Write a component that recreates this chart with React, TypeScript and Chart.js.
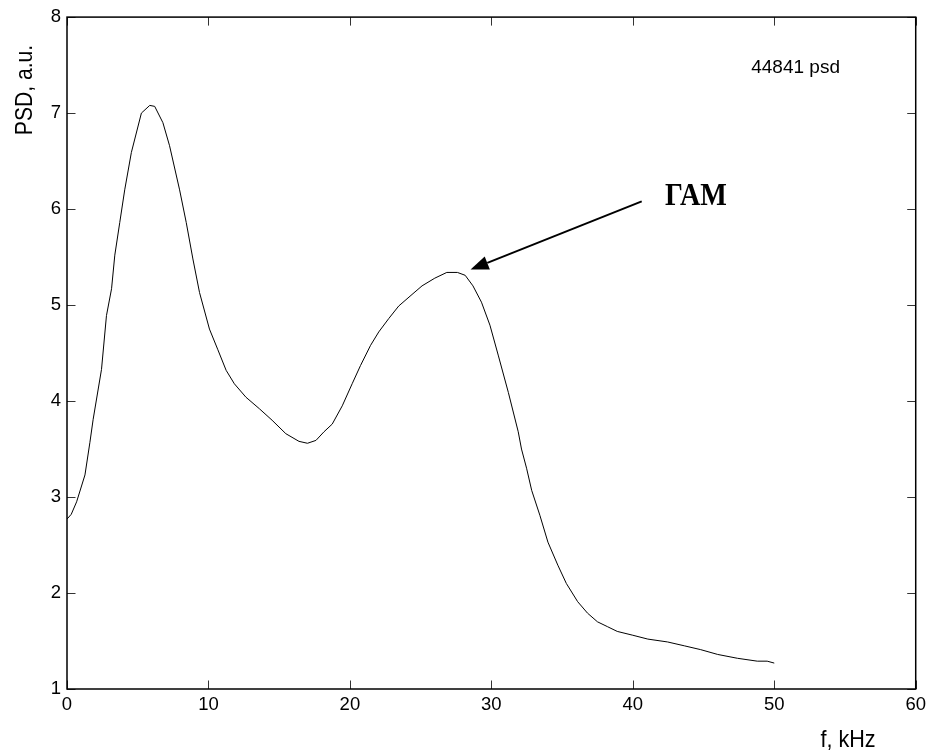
import React, { useEffect, useRef } from "react";
import { Chart, registerables } from "chart.js";

Chart.register(...registerables);

// ---- data ----
const freqKHz = [
  0, 0.3, 0.68, 1.27, 1.62, 1.85, 2.44, 2.79, 3.15, 3.38, 3.73, 4.08, 4.55,
  5.26, 5.85, 6.2, 6.78, 7.25, 7.96, 8.43, 8.9, 9.37, 10.07, 10.65, 11.25,
  11.83, 12.65, 13.6, 14.5, 15.47, 16.4, 17.0, 17.6, 18.17, 18.75, 19.46,
  20.16, 20.75, 21.46, 22.04, 22.75, 23.45, 24.39, 25.1, 26.0, 26.85, 27.6,
  28.15, 28.7, 29.3, 29.9, 30.5, 31.2, 31.9, 32.13, 32.49, 32.85, 33.43, 34.0,
  34.7, 35.3, 36.1, 36.8, 37.5, 38.2, 38.9, 40.0, 41.06, 42.46, 43.64, 44.8,
  46.0, 47.4, 48.8, 49.5, 50.0,
];
const psd = [
  2.77, 2.82, 2.95, 3.23, 3.57, 3.81, 4.33, 4.89, 5.17, 5.52, 5.86, 6.2, 6.59,
  7.0, 7.08, 7.07, 6.9, 6.66, 6.2, 5.86, 5.48, 5.13, 4.75, 4.54, 4.32, 4.18,
  4.04, 3.92, 3.8, 3.66, 3.58, 3.56, 3.59, 3.68, 3.76, 3.95, 4.18, 4.37, 4.58,
  4.72, 4.86, 4.99, 5.11, 5.2, 5.28, 5.34, 5.34, 5.31, 5.2, 5.03, 4.79, 4.47,
  4.09, 3.68, 3.5, 3.3, 3.07, 2.81, 2.53, 2.29, 2.1, 1.91, 1.79, 1.7, 1.65,
  1.6, 1.56, 1.52, 1.49, 1.45, 1.41, 1.36, 1.32, 1.29, 1.29, 1.27,
];
const xTicks = [0, 10, 20, 30, 40, 50, 60];
const yTicks = [1, 2, 3, 4, 5, 6, 7, 8];

const xTitle = "f, kHz";
const yTitle = "PSD, a.u.";
const shotLabel = "44841 psd";
const modeLabel = "ГАМ";
// annotation anchors in data units
const arrowTail = { x: 40.63, y: 6.08 };
const arrowTip = { x: 28.53, y: 5.37 };
const modeLabelPos = { x: 42.28, y: 6.046 };
const shotLabelPos = { x: 48.37, y: 7.417 };

export default function App() {
  const ref = useRef<HTMLCanvasElement>(null);

  useEffect(() => {
    document.body.style.margin = "0";
    const canvas = ref.current!;

    const framePlugin = {
      id: "matlabFrame",
      afterDraw(chart: any) {
        const { ctx, chartArea: a, scales } = chart;
        const x = scales.x;
        const y = scales.y;
        ctx.save();
        // inward ticks on all four sides
        ctx.strokeStyle = "#333";
        ctx.lineWidth = 1;
        const tl = 8.5;
        ctx.beginPath();
        for (const t of xTicks) {
          const px = Math.round(x.getPixelForValue(t)) + 0.5;
          ctx.moveTo(px, a.bottom);
          ctx.lineTo(px, a.bottom - tl);
          ctx.moveTo(px, a.top);
          ctx.lineTo(px, a.top + tl);
        }
        for (const t of yTicks) {
          const py = Math.round(y.getPixelForValue(t)) + 0.5;
          ctx.moveTo(a.left, py);
          ctx.lineTo(a.left + tl, py);
          ctx.moveTo(a.right, py);
          ctx.lineTo(a.right - tl, py);
        }
        ctx.stroke();
        // box
        ctx.strokeStyle = "#000";
        ctx.lineWidth = 1.5;
        ctx.strokeRect(a.left, a.top, a.right - a.left, a.bottom - a.top);

        ctx.fillStyle = "#000";
        // axis titles (slightly condensed like the reference)
        ctx.font = "24px 'Liberation Sans', Arial, sans-serif";
        ctx.textAlign = "center";
        ctx.textBaseline = "alphabetic";
        ctx.save();
        ctx.translate(848, 746.5);
        ctx.scale(0.9, 1);
        ctx.fillText(xTitle, 0, 0);
        ctx.restore();
        ctx.save();
        ctx.translate(31.5, 90);
        ctx.rotate(-Math.PI / 2);
        ctx.scale(0.88, 1);
        ctx.fillText(yTitle, 0, 0);
        ctx.restore();

        // shot label
        ctx.font = "19px 'Liberation Sans', Arial, sans-serif";
        ctx.textAlign = "left";
        ctx.fillText(
          shotLabel,
          x.getPixelForValue(shotLabelPos.x),
          y.getPixelForValue(shotLabelPos.y)
        );

        // mode label
        ctx.save();
        ctx.font = "bold 32px 'Liberation Serif', 'Times New Roman', serif";
        ctx.translate(
          x.getPixelForValue(modeLabelPos.x),
          y.getPixelForValue(modeLabelPos.y)
        );
        ctx.scale(0.88, 1);
        ctx.fillText(modeLabel, 0, 0);
        ctx.restore();

        // arrow
        const x0 = x.getPixelForValue(arrowTail.x);
        const y0 = y.getPixelForValue(arrowTail.y);
        const x1 = x.getPixelForValue(arrowTip.x);
        const y1 = y.getPixelForValue(arrowTip.y);
        const ang = Math.atan2(y1 - y0, x1 - x0);
        const hl = 18;
        const hw = 7;
        const bx = x1 - hl * Math.cos(ang);
        const by = y1 - hl * Math.sin(ang);
        ctx.strokeStyle = "#000";
        ctx.lineWidth = 2;
        ctx.beginPath();
        ctx.moveTo(x0, y0);
        ctx.lineTo(bx, by);
        ctx.stroke();
        ctx.beginPath();
        ctx.moveTo(x1, y1);
        ctx.lineTo(bx + hw * Math.sin(ang), by - hw * Math.cos(ang));
        ctx.lineTo(bx - hw * Math.sin(ang), by + hw * Math.cos(ang));
        ctx.closePath();
        ctx.fill();
        ctx.restore();
      },
    };

    const tickFont = { family: "'Liberation Sans', Arial, sans-serif", size: 18.5 };

    const chart = new Chart(canvas, {
      type: "line",
      data: {
        datasets: [
          {
            data: freqKHz.map((f, i) => ({ x: f, y: psd[i] })),
            borderColor: "#000",
            borderWidth: 1,
            pointRadius: 0,
            tension: 0,
            fill: false,
          },
        ],
      },
      options: {
        responsive: false,
        animation: false,
        layout: { padding: { left: 0, right: 13, top: 13, bottom: 23 } },
        plugins: {
          legend: { display: false },
          tooltip: { enabled: false },
          title: { display: false },
        },
        scales: {
          x: {
            type: "linear",
            min: 0,
            max: 60,
            afterBuildTicks: (s: any) => {
              s.ticks = xTicks.map((v) => ({ value: v }));
            },
            afterFit: (s: any) => {
              s.height = 40;
            },
            grid: { display: false, drawTicks: false },
            border: { display: false },
            ticks: {
              padding: 5,
              color: "#000",
              font: tickFont,
              maxRotation: 0,
              autoSkip: false,
            },
          },
          y: {
            type: "linear",
            min: 1,
            max: 8,
            afterBuildTicks: (s: any) => {
              s.ticks = yTicks.map((v) => ({ value: v }));
            },
            afterFit: (s: any) => {
              s.width = 67;
            },
            grid: { display: false, drawTicks: false },
            border: { display: false },
            ticks: {
              padding: 6,
              color: "#000",
              font: tickFont,
              autoSkip: false,
            },
          },
        },
      },
      plugins: [framePlugin],
    });

    return () => chart.destroy();
  }, []);

  return (
    <div style={{ position: "absolute", left: 0, top: 0, width: 931, height: 752 }}>
      <canvas ref={ref} width={931} height={752} style={{ display: "block" }} />
    </div>
  );
}
